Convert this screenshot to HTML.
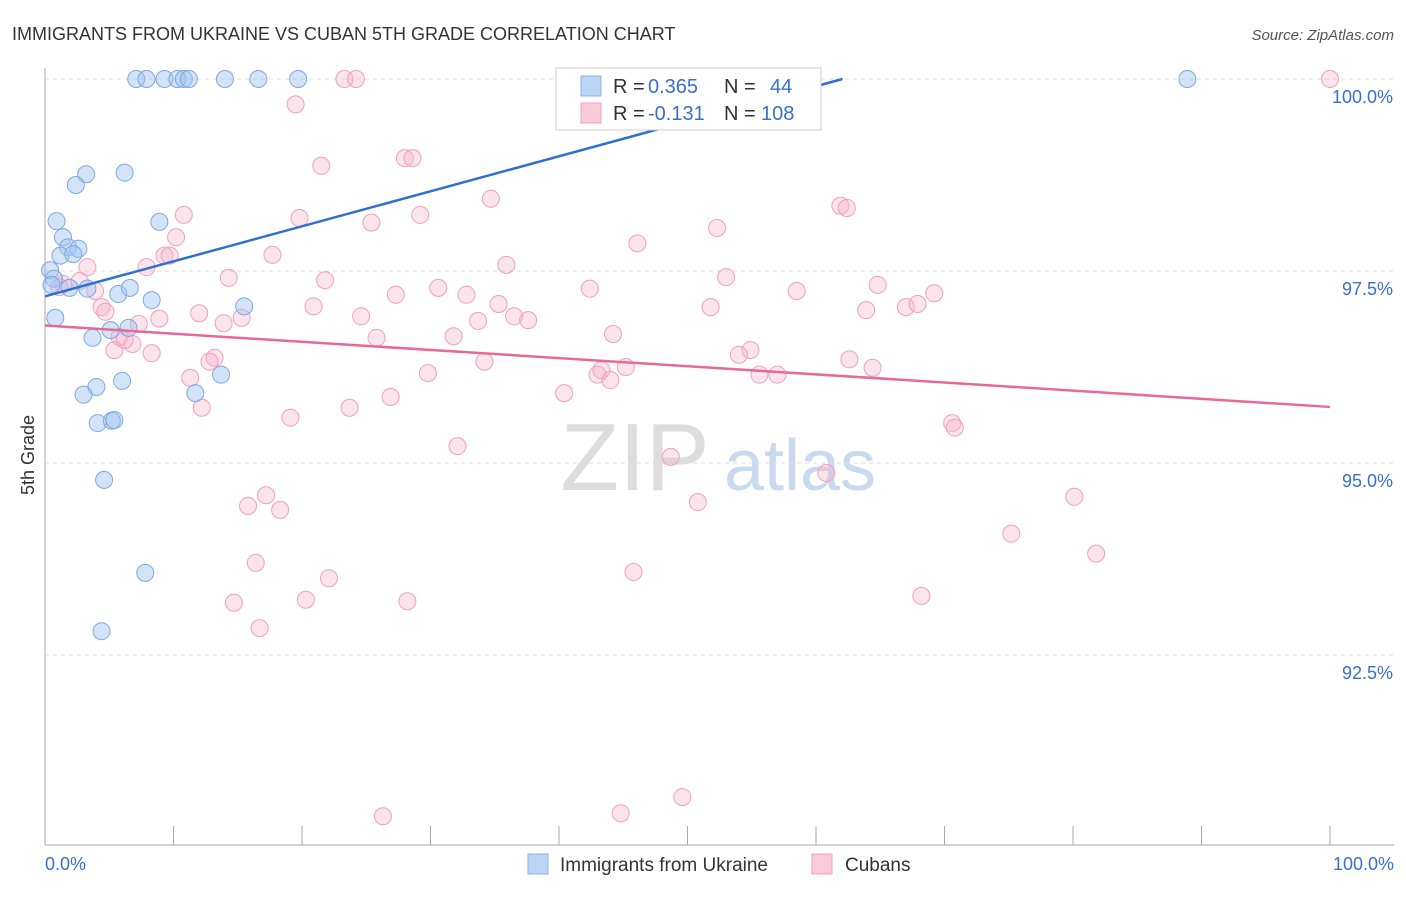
<!DOCTYPE html>
<html><head><meta charset="utf-8"><style>
body{margin:0;background:#fff;font-family:"Liberation Sans",sans-serif;}
svg text{font-family:"Liberation Sans",sans-serif;}
</style></head><body>
<svg id="chart" width="1406" height="892">
<text x="12" y="40" font-size="18" fill="#333">IMMIGRANTS FROM UKRAINE VS CUBAN 5TH GRADE CORRELATION CHART</text>
<text x="1394" y="40" font-size="15" fill="#555" font-style="italic" text-anchor="end">Source: ZipAtlas.com</text>
<text x="34" y="455" font-size="18" fill="#333" text-anchor="middle" transform="rotate(-90 34 455)">5th Grade</text>
<g><text x="635" y="490" font-size="96" fill="#ddd" font-family="Liberation Serif" text-anchor="middle">ZIP</text><text x="800" y="490" font-size="72" fill="#c9daf0" text-anchor="middle">atlas</text></g>
<g id="grid"></g><g id="axes"></g><g id="pts"></g><g id="trend"></g>
<g>
<rect x="556" y="68" width="265" height="62" fill="#fff" stroke="#ccc"/>
<rect x="581" y="76" width="20" height="20" fill="#bcd4f5" stroke="#8db4e8"/>
<rect x="581" y="103" width="20" height="20" fill="#f9cad8" stroke="#f0a0bc"/>
<text x="613" y="93" font-size="20" fill="#333">R =</text>
<text x="648" y="93" font-size="20" fill="#3a6fd0">0.365</text>
<text x="724" y="93" font-size="20" fill="#333">N =</text>
<text x="770" y="93" font-size="20" fill="#3a6fd0">44</text>
<text x="613" y="120" font-size="20" fill="#333">R =</text>
<text x="648" y="120" font-size="20" fill="#3a6fd0">-0.131</text>
<text x="724" y="120" font-size="20" fill="#333">N =</text>
<text x="761" y="120" font-size="20" fill="#3a6fd0">108</text>
</g>
<g>
<rect x="528" y="854" width="20" height="20" fill="#bcd4f5" stroke="#8db4e8"/>
<text x="560" y="871" font-size="19" fill="#333">Immigrants from Ukraine</text>
<rect x="812" y="854" width="20" height="20" fill="#f9cad8" stroke="#f0a0bc"/>
<text x="845" y="871" font-size="19" fill="#333">Cubans</text>
</g>
</svg>
<script>
const yTicks=[100,97.5,95,92.5];
const yTickLabels=["100.0%","97.5%","95.0%","92.5%"];
const xTickVals=[0,10,20,30,40,50,60,70,80,90,100];
const blueX=[7.1,7.9,9.3,10.3,10.8,11.2,14.0,16.6,19.7,88.9,3.2,6.2,2.4,0.9,8.9,1.4,1.8,2.6,1.2,2.2,0.4,0.7,0.5,1.9,3.3,5.7,6.6,8.3,15.5,0.8,5.1,6.5,3.7,4.0,3.0,6.0,13.7,11.7,4.1,5.2,5.4,4.6,7.8,4.4];
const blueY=[100,100,100,100,100,100,100,100,100,100,98.76,98.78,98.62,98.15,98.14,97.94,97.81,97.79,97.70,97.72,97.51,97.40,97.32,97.28,97.27,97.20,97.28,97.12,97.04,96.89,96.73,96.76,96.63,95.99,95.89,96.07,96.15,95.91,95.52,95.55,95.56,94.78,93.57,92.81];
const pinkX=[23.3,24.2,100,19.5,21.5,28.0,28.6,10.8,19.8,29.2,34.7,25.4,61.9,62.4,10.2,52.3,46.1,9.3,9.7,17.7,7.9,3.3,35.9,14.3,21.8,53.0,2.7,1.4,1.1,3.9,27.3,30.6,32.8,42.4,58.5,64.8,69.2,35.3,20.9,12.0,4.4,51.8,67.0,67.9,63.9,8.9,15.3,24.6,36.5,37.6,33.7,4.7,7.3,13.9,44.2,25.8,31.8,5.8,6.2,6.8,5.4,8.3,13.2,12.8,34.2,54.9,54.0,62.6,64.4,43.3,45.2,43.0,44.0,29.8,55.6,57.0,11.3,40.4,26.9,12.2,23.7,19.1,70.6,70.8,32.1,48.7,60.8,80.1,17.2,15.8,18.3,50.8,75.2,81.8,16.4,45.8,22.1,20.3,28.2,14.7,68.2,16.7,49.6,44.8,26.3];
const pinkY=[100,100,100,99.67,98.87,98.97,98.97,98.23,98.19,98.23,98.44,98.13,98.35,98.32,97.94,98.06,97.86,97.70,97.70,97.71,97.55,97.55,97.58,97.41,97.38,97.42,97.37,97.33,97.29,97.24,97.19,97.28,97.19,97.27,97.24,97.32,97.21,97.07,97.04,96.95,97.03,97.03,97.03,97.07,96.99,96.88,96.89,96.91,96.91,96.86,96.85,96.97,96.81,96.82,96.68,96.63,96.65,96.64,96.60,96.55,96.47,96.43,96.37,96.32,96.32,96.47,96.41,96.35,96.24,96.21,96.25,96.15,96.08,96.17,96.15,96.15,96.11,95.91,95.86,95.72,95.72,95.59,95.52,95.46,95.22,95.08,94.87,94.56,94.58,94.44,94.39,94.49,94.08,93.82,93.70,93.58,93.50,93.22,93.20,93.18,93.27,92.85,90.65,90.44,90.40];
const blueTrend=[97.17,101.73];
const pinkTrend=[96.79,95.73];
const NS="http://www.w3.org/2000/svg";
const sx=v=>45+v*12.85, sy=v=>79+(100-v)*76.8;
function mk(tag,attrs,parent){const e=document.createElementNS(NS,tag);for(const k in attrs)e.setAttribute(k,attrs[k]);document.getElementById(parent).appendChild(e);return e;}
yTicks.forEach((t,i)=>{
  const l=mk('line',{x1:45,x2:1394,y1:sy(t),y2:sy(t),stroke:'#ddd','stroke-dasharray':'4,4'},'grid');
  
  
  const tx=mk('text',{x:1393,y:sy(t)+24,'font-size':18,fill:'#3a6fd0','text-anchor':'end'},'grid');
  tx.textContent=yTickLabels[i];
  
  
});
const ax=mk('line',{x1:45,x2:45,y1:68,y2:845,stroke:'#aaa'},'axes');


const bx=mk('line',{x1:45,x2:1394,y1:845,y2:845,stroke:'#aaa'},'axes');


xTickVals.forEach(v=>{
  const t=mk('line',{x1:sx(v),x2:sx(v),y1:826,y2:845,stroke:'#aaa'},'axes');
  
  
});
const xl0=mk('text',{x:45,y:870,'font-size':18,fill:'#3a6fd0'},'axes');xl0.textContent='0.0%';


const xl1=mk('text',{x:1394,y:870,'font-size':18,fill:'#3a6fd0','text-anchor':'end'},'axes');xl1.textContent='100.0%';


pinkX.forEach((x,i)=>{
  const c=mk('circle',{cx:sx(x),cy:sy(pinkY[i]),r:8.5,fill:'rgba(246,178,200,0.35)',stroke:'#f0a0bc','stroke-width':1},'pts');
  
  
});
blueX.forEach((x,i)=>{
  const c=mk('circle',{cx:sx(x),cy:sy(blueY[i]),r:8.5,fill:'rgba(160,196,240,0.45)',stroke:'#7ea8e2','stroke-width':1},'pts');
  
  
});
const bx2=(100-blueTrend[0])/(blueTrend[1]-blueTrend[0])*100;
const tb=mk('line',{x1:sx(0),y1:sy(blueTrend[0]),x2:sx(bx2),y2:sy(100),stroke:'#2e6fd6','stroke-width':2.5},'trend');


const tp=mk('line',{x1:sx(0),y1:sy(pinkTrend[0]),x2:sx(100),y2:sy(pinkTrend[1]),stroke:'#e8689a','stroke-width':2.5},'trend');


</script>
</body></html>
